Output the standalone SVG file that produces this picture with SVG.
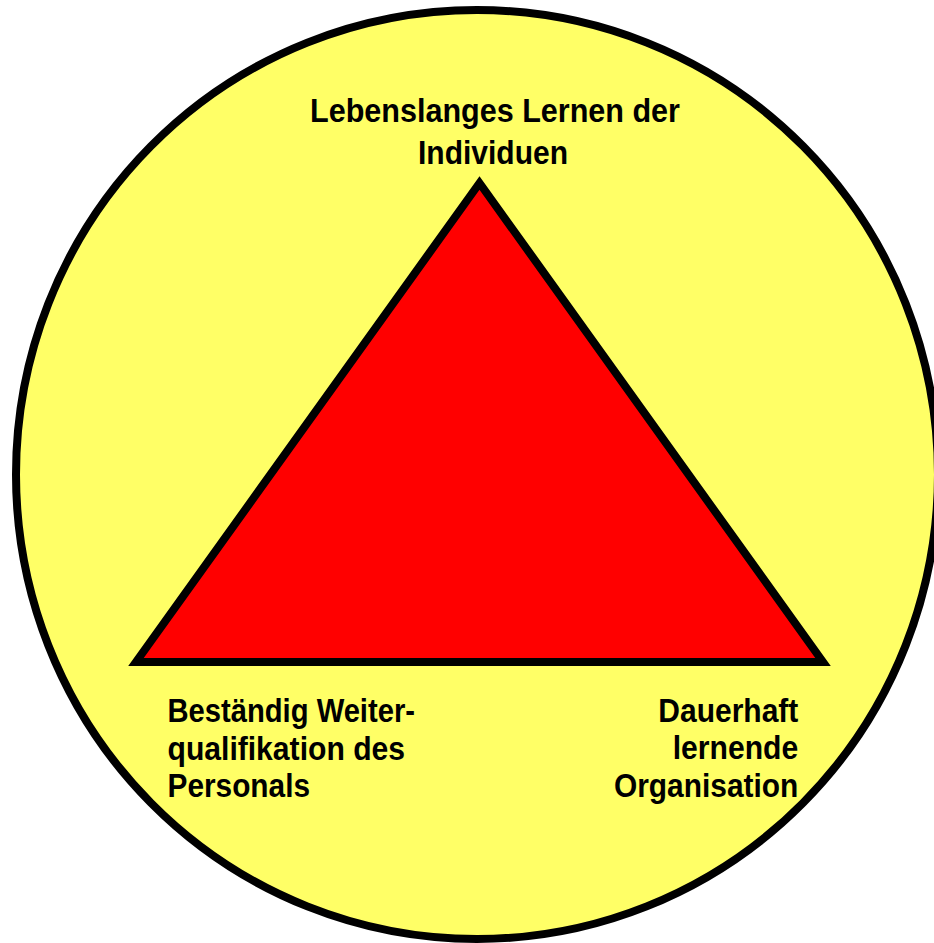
<svg xmlns="http://www.w3.org/2000/svg" width="934" height="943" viewBox="0 0 934 943">
<style>
.lbl{font-family:"Liberation Sans",Arial,sans-serif;font-weight:bold;font-size:33.5px;fill:#000}
</style>
<rect width="934" height="943" fill="#fff"/>
<g id="circle">
<ellipse cx="477" cy="474.5" rx="461" ry="464.5" fill="#FFFF66" stroke="#000" stroke-width="8"/>
</g>
<g id="triangle">
<polygon points="479.5,183 823,662 136,662" fill="#FF0000" stroke="#000" stroke-width="8" stroke-linejoin="miter"/>
</g>
<g id="label-top">
<text class="lbl" x="310" y="121.7" textLength="370" lengthAdjust="spacingAndGlyphs">Lebenslanges Lernen der</text>
<text class="lbl" x="418" y="164.3" textLength="150" lengthAdjust="spacingAndGlyphs">Individuen</text>
</g>
<g id="label-left">
<text class="lbl" x="167.5" y="722.3" textLength="247.5" lengthAdjust="spacingAndGlyphs">Beständig Weiter-</text>
<text class="lbl" x="167.5" y="759.5" textLength="237.5" lengthAdjust="spacingAndGlyphs">qualifikation des</text>
<text class="lbl" x="167.5" y="797.2" textLength="142.5" lengthAdjust="spacingAndGlyphs">Personals</text>
</g>
<g id="label-right">
<text class="lbl" x="658.3" y="721.5" textLength="140" lengthAdjust="spacingAndGlyphs">Dauerhaft</text>
<text class="lbl" x="672.7" y="759.3" textLength="125.5" lengthAdjust="spacingAndGlyphs">lernende</text>
<text class="lbl" x="614" y="797" textLength="184.3" lengthAdjust="spacingAndGlyphs">Organisation</text>
</g>
</svg>
